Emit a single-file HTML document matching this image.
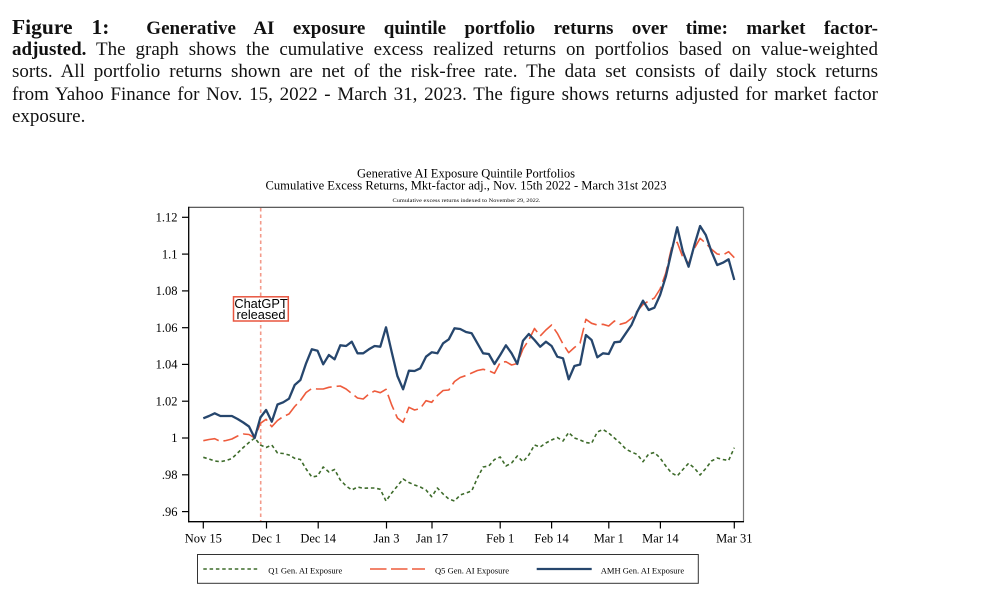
<!DOCTYPE html>
<html>
<head>
<meta charset="utf-8">
<style>
html,body{margin:0;padding:0;background:#fff;}
body{width:981px;height:606px;position:relative;overflow:hidden;}
.cap{position:absolute;left:12px;width:866px;font-family:"Liberation Serif",serif;font-size:19px;line-height:22px;color:#111;white-space:nowrap;text-align:justify;text-align-last:justify;}
.cap b{font-weight:bold;}
.fig{font-size:21.5px;}
svg{position:absolute;left:0;top:0;}
</style>
</head>
<body>
<div class="cap" style="top:15.6px;"><b><span class="fig">Figure 1:</span>&nbsp; Generative AI exposure quintile portfolio returns over time: market factor-</b></div>
<div class="cap" style="top:39px;"><b>adjusted.</b> The graph shows the cumulative excess realized returns on portfolios based on value-weighted</div>
<div class="cap" style="top:61px;">sorts. All portfolio returns shown are net of the risk-free rate. The data set consists of daily stock returns</div>
<div class="cap" style="top:83.5px;">from Yahoo Finance for Nov. 15, 2022 - March 31, 2023. The figure shows returns adjusted for market factor</div>
<div class="cap" style="top:105.5px;text-align:left;text-align-last:left;">exposure.</div>

<svg width="981" height="606" viewBox="0 0 981 606" xmlns="http://www.w3.org/2000/svg">
<g font-family="Liberation Serif, serif" fill="#000">
<text x="466" y="177.5" font-size="12.5" text-anchor="middle" textLength="218" lengthAdjust="spacingAndGlyphs">Generative AI Exposure Quintile Portfolios</text>
<text x="466" y="189.5" font-size="12.5" text-anchor="middle" textLength="401" lengthAdjust="spacingAndGlyphs">Cumulative Excess Returns, Mkt-factor adj., Nov. 15th 2022 - March 31st 2023</text>
<text x="466.5" y="202" font-size="5" text-anchor="middle" textLength="148" lengthAdjust="spacingAndGlyphs">Cumulative excess returns indexed to November 29, 2022.</text>
</g>

<!-- plot frame -->
<line x1="188.7" y1="207.3" x2="743.5" y2="207.3" stroke="#444" stroke-width="1.2"/>
<line x1="743.5" y1="207.3" x2="743.5" y2="521.7" stroke="#777" stroke-width="1.2"/>
<line x1="188.7" y1="206.7" x2="188.7" y2="522.3" stroke="#000" stroke-width="1.3"/>
<line x1="188" y1="521.7" x2="744" y2="521.7" stroke="#000" stroke-width="1.3"/>

<!-- y ticks -->
<g stroke="#000" stroke-width="1.2">
<line x1="182" y1="217.3" x2="188.7" y2="217.3"/>
<line x1="182" y1="254.1" x2="188.7" y2="254.1"/>
<line x1="182" y1="290.9" x2="188.7" y2="290.9"/>
<line x1="182" y1="327.7" x2="188.7" y2="327.7"/>
<line x1="182" y1="364.4" x2="188.7" y2="364.4"/>
<line x1="182" y1="401.2" x2="188.7" y2="401.2"/>
<line x1="182" y1="438" x2="188.7" y2="438"/>
<line x1="182" y1="474.8" x2="188.7" y2="474.8"/>
<line x1="182" y1="511.6" x2="188.7" y2="511.6"/>
</g>
<g font-family="Liberation Serif, serif" font-size="12.5" text-anchor="end" fill="#000">
<text x="177.5" y="221.5">1.12</text>
<text x="177.5" y="258.3">1.1</text>
<text x="177.5" y="295.1">1.08</text>
<text x="177.5" y="331.9">1.06</text>
<text x="177.5" y="368.6">1.04</text>
<text x="177.5" y="405.4">1.02</text>
<text x="177.5" y="442.2">1</text>
<text x="177.5" y="479">.98</text>
<text x="177.5" y="515.8">.96</text>
</g>

<!-- x ticks -->
<g stroke="#000" stroke-width="1.2">
<line x1="203.3" y1="521.7" x2="203.3" y2="528.5"/>
<line x1="266.5" y1="521.7" x2="266.5" y2="528.5"/>
<line x1="318.2" y1="521.7" x2="318.2" y2="528.5"/>
<line x1="386.5" y1="521.7" x2="386.5" y2="528.5"/>
<line x1="432" y1="521.7" x2="432" y2="528.5"/>
<line x1="500.2" y1="521.7" x2="500.2" y2="528.5"/>
<line x1="551.6" y1="521.7" x2="551.6" y2="528.5"/>
<line x1="608.8" y1="521.7" x2="608.8" y2="528.5"/>
<line x1="660.4" y1="521.7" x2="660.4" y2="528.5"/>
<line x1="734.3" y1="521.7" x2="734.3" y2="528.5"/>
</g>
<g font-family="Liberation Serif, serif" font-size="12.5" text-anchor="middle" fill="#000">
<text x="203.3" y="542.5">Nov 15</text>
<text x="266.5" y="542.5">Dec 1</text>
<text x="318.2" y="542.5">Dec 14</text>
<text x="386.5" y="542.5">Jan 3</text>
<text x="432" y="542.5">Jan 17</text>
<text x="500.2" y="542.5">Feb 1</text>
<text x="551.6" y="542.5">Feb 14</text>
<text x="608.8" y="542.5">Mar 1</text>
<text x="660.4" y="542.5">Mar 14</text>
<text x="734.3" y="542.5">Mar 31</text>
</g>

<!-- ChatGPT vertical line -->
<line x1="260.7" y1="208" x2="260.7" y2="521" stroke="#f39a8a" stroke-width="1.6" stroke-dasharray="3.5,3"/>

<!-- series -->
<polyline fill="none" stroke="#3d6b2a" stroke-width="1.6" stroke-dasharray="3.5,2.8" stroke-linejoin="round" points="203.3,457.3 209,459 214.7,461 220.4,461.7 226.1,460.5 231.9,458.5 237.6,453 243.3,447.5 249,442.5 254.7,438 260.4,445 266.1,447.5 271.8,445 277.5,453 283.2,453.5 289,455 294.7,458.3 300.4,459.5 306.1,469 311.8,477 317.5,476 323.2,467 328.9,472 334.6,469.5 340.3,480 346.1,486 351.8,490 357.5,487 363.2,488.3 368.9,488 374.6,488 380.3,489.3 386,501 391.7,493 397.4,486 403.1,479 408.9,482.5 414.6,485 420.3,487 426,490 431.7,496.7 437.4,488 443.1,494 448.8,499 454.5,501 460.2,495 466,493 471.7,491 477.4,478 483.1,467 488.8,466 494.5,459.5 500.2,457 505.9,466 511.6,463 517.3,456 523,461.7 528.8,455 534.5,445 540.2,447 545.9,443 551.6,440 557.3,437.5 563,441 568.7,432.5 574.4,438 580.1,440 585.9,442.5 591.6,443.3 597.3,432 603,429.5 608.7,433 614.4,438 620.1,443 625.8,449 631.5,452 637.3,454.5 643,461.7 648.7,454 654.4,452.5 660.1,458 665.8,466 671.5,473 677.2,476 682.9,469.5 688.6,463.3 694.4,468 700.1,475 705.8,468.5 711.5,461 717.2,458 722.9,459.5 728.6,460.5 734.3,447.7"/>

<polyline fill="none" stroke="#ee5b3c" stroke-width="1.6" stroke-dasharray="16,5" stroke-linejoin="round" points="203.3,440.7 209,439.5 214.7,438.7 220.4,441.5 226.1,440.5 231.9,439 237.6,436 243.3,434 249,434.5 254.7,438 260.4,423.3 266.1,419.3 271.8,426.7 277.5,420.5 283.2,416.5 289,414 294.7,406.5 300.4,400.5 306.1,392.5 311.8,388.5 317.5,389 323.2,389 328.9,387.3 334.6,386.5 340.3,386 346.1,389 351.8,393.5 357.5,398 363.2,399 368.9,394 374.6,391 380.3,392.7 386,389.3 391.7,405 397.4,418 403.1,422.3 408.9,407.3 414.6,410 420.3,408.5 426,400.7 431.7,402.3 437.4,395.5 443.1,390.5 448.8,390 454.5,381.5 460.2,377.5 466,375.5 471.7,373 477.4,370.5 483.1,369.3 488.8,370.7 494.5,373.3 500.2,362.5 505.9,361.7 511.6,365 517.3,363.5 523,349 528.8,340 534.5,328.5 540.2,336 545.9,330 551.6,325 557.3,333.3 563,344 568.7,352.7 574.4,347.5 580.1,343 585.9,319.3 591.6,323.3 597.3,325 603,324.3 608.7,326 614.4,321 620.1,324.3 625.8,322.7 631.5,318.3 637.3,311 643,304.5 648.7,301 654.4,298 660.1,289 665.8,273 671.5,248 677.2,242.3 682.9,257.5 688.6,263.3 694.4,248.3 700.1,238.3 705.8,243.3 711.5,249.3 717.2,254 722.9,255 728.6,251.7 734.3,257.7"/>

<polyline fill="none" stroke="#26466d" stroke-width="2.3" stroke-linejoin="round" points="203.3,418.3 209,416 214.7,413.3 220.4,416 226.1,416 231.9,416 237.6,419 243.3,422.5 249,426.5 254.7,438 260.4,417.5 266.1,410 271.8,421.7 277.5,404.5 283.2,402.3 289,398.7 294.7,385 300.4,380 306.1,363.3 311.8,349.3 317.5,350.7 323.2,364.3 328.9,355 334.6,359.3 340.3,345.3 346.1,346 351.8,341.7 357.5,353.3 363.2,353.3 368.9,349.3 374.6,346 380.3,346.7 386,327.3 391.7,352 397.4,376 403.1,389.3 408.9,370.7 414.6,371 420.3,368.3 426,356.7 431.7,352.3 437.4,353.3 443.1,343.3 448.8,339.3 454.5,328.3 460.2,329 466,332 471.7,333.3 477.4,343.3 483.1,353.3 488.8,354 494.5,364 500.2,355 505.9,345.3 511.6,353.3 517.3,364 523,340.7 528.8,334 534.5,340 540.2,346.7 545.9,341.7 551.6,346 557.3,356.7 563,358.3 568.7,379.3 574.4,366 580.1,364.5 585.9,335 591.6,340 597.3,357.3 603,353.3 608.7,354 614.4,342.3 620.1,341.7 625.8,333.3 631.5,325 637.3,311.7 643,300.7 648.7,310 654.4,307.7 660.1,295 665.8,276.7 671.5,251.7 677.2,227.3 682.9,251.7 688.6,266.7 694.4,245 700.1,226 705.8,235 711.5,251.7 717.2,265 722.9,262.7 728.6,259.3 734.3,280"/>

<!-- ChatGPT label -->
<rect x="233.5" y="296.8" width="54.8" height="24.2" fill="#fff" stroke="#e8553f" stroke-width="1.5"/>
<g font-family="Liberation Sans, Arial, sans-serif" font-size="12.8" text-anchor="middle" fill="#000">
<text x="261" y="307.8">ChatGPT</text>
<text x="261" y="319">released</text>
</g>

<!-- legend -->
<rect x="197.5" y="554.5" width="500.8" height="28.8" fill="#fff" stroke="#333" stroke-width="1"/>
<line x1="203.3" y1="569" x2="258.3" y2="569" stroke="#3d6b2a" stroke-width="1.6" stroke-dasharray="3.5,2.8"/>
<line x1="370" y1="569" x2="425" y2="569" stroke="#ee5b3c" stroke-width="1.6" stroke-dasharray="16.5,4.5"/>
<line x1="536.7" y1="569" x2="591.7" y2="569" stroke="#26466d" stroke-width="2.3"/>
<g font-family="Liberation Serif, serif" font-size="8.6" fill="#000">
<text x="268.3" y="573.5" textLength="74" lengthAdjust="spacingAndGlyphs">Q1 Gen. AI Exposure</text>
<text x="435" y="573.5" textLength="74" lengthAdjust="spacingAndGlyphs">Q5 Gen. AI Exposure</text>
<text x="600.7" y="573.5" textLength="83.5" lengthAdjust="spacingAndGlyphs">AMH Gen. AI Exposure</text>
</g>
</svg>
</body>
</html>
